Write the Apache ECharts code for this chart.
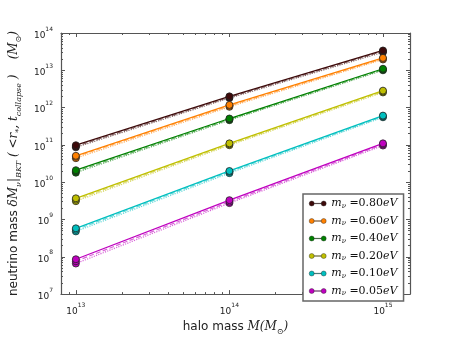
<!DOCTYPE html>
<html>
<head>
<meta charset="utf-8">
<script src="https://cdn.jsdelivr.net/npm/echarts@6/dist/echarts.min.js"></script>
<style>
  html, body { margin: 0; padding: 0; background: #fff; }
  #chart { width: 455px; height: 341px; }
</style>
</head>
<body>
<div id="chart"></div>
<script>
// halo masses (x) and neutrino masses per curve
var haloMass = [1e13, 1e14, 1e15];
var nuMass = ['0.80', '0.60', '0.40', '0.20', '0.10', '0.05'];
var colors = ['#3d0a0a', '#ff8000', '#008000', '#bfbf00', '#00bfbf', '#bf00bf'];

// solid line (main)
var mainVals = [
    [9.8e10, 2.0e12, 3.4e13],
    [5.1e10, 1.18e12, 2.15e13],
    [2.1e10, 5.1e11, 1.1e13],
    [3.7e9, 1.1e11, 2.85e12],
    [5.8e8, 2.0e10, 6.1e11],
    [8.6e7, 3.3e9, 1.1e11]
];
// dashed line
var dashVals = [
    [9.2e10, 1.9e12, 3.25e13],
    [4.8e10, 1.12e12, 2.05e13],
    [1.95e10, 4.85e11, 1.05e13],
    [3.4e9, 1.04e11, 2.7e12],
    [5.3e8, 1.9e10, 5.8e11],
    [7.6e7, 3.0e9, 1.03e11]
];
// dotted line
var dotVals = [
    [8.6e10, 1.8e12, 3.05e13],
    [4.4e10, 1.05e12, 1.95e13],
    [1.8e10, 4.6e11, 1.0e13],
    [3.1e9, 9.8e10, 2.55e12],
    [4.8e8, 1.75e10, 5.5e11],
    [6.6e7, 2.75e9, 0.96e11]
];

var xTicks = [1e13, 1e14, 1e15];
var yTicks = [1e7, 1e8, 1e9, 1e10, 1e11, 1e12, 1e13, 1e14];

function minorTicks(lo, hi) {
    var out = [];
    for (var e = lo; e < hi; e++) {
        for (var k = 2; k <= 9; k++) out.push(k * Math.pow(10, e));
    }
    return out;
}
var xMinor = [9e12].concat(minorTicks(13, 15));
var yMinor = minorTicks(7, 14);

function pts(vals) {
    return haloMass.map(function (x, i) { return [x, vals[i]]; });
}

var frame = '#555';
var supLabel = {
    fontFamily: 'DejaVu Sans',
    color: '#222',
    formatter: function (v) {
        return '{b|10}{e|' + Math.round(Math.log10(v)) + '}';
    },
    rich: {
        b: { fontSize: 9, fontFamily: 'DejaVu Sans', color: '#222', verticalAlign: 'bottom', lineHeight: 14 },
        e: { fontSize: 6, fontFamily: 'DejaVu Sans', color: '#222', verticalAlign: 'top', lineHeight: 14 }
    }
};

function majorAxis(pos, ticks, min, max, labels, extra) {
    var a = {
        type: 'log',
        position: pos,
        min: min,
        max: max,
        splitLine: { show: false },
        axisLine: { show: true, onZero: false, lineStyle: { color: frame, width: 1.2 } },
        axisTick: { show: true, inside: true, length: 4, customValues: ticks, lineStyle: { color: frame } },
        axisLabel: labels ? Object.assign({ show: true, customValues: ticks }, supLabel) : { show: false }
    };
    return Object.assign(a, extra || {});
}
function minorAxis(pos, ticks, min, max) {
    return {
        type: 'log',
        position: pos,
        min: min,
        max: max,
        splitLine: { show: false },
        axisLine: { show: false },
        axisTick: { show: true, inside: true, length: 2, customValues: ticks, lineStyle: { color: frame } },
        axisLabel: { show: false }
    };
}

var xMin = 8e12, xMax = 1.5e15, yMin = 1e7, yMax = 1e14;

var chart = echarts.init(document.getElementById('chart'));

var series = [];
nuMass.forEach(function (m, i) {
    var mk = {
        symbol: 'circle', symbolSize: 7,
        itemStyle: { color: colors[i], borderColor: '#222', borderWidth: 0.8 }
    };
    series.push(Object.assign({
        name: m, type: 'line', data: pts(dotVals[i]), z: 2,
        lineStyle: { color: colors[i], width: 1.2, type: 'dotted', opacity: 0.6 }
    }, mk));
    series.push(Object.assign({
        name: m, type: 'line', data: pts(dashVals[i]), z: 3,
        lineStyle: { color: colors[i], width: 1.2, type: 'dashed', opacity: 0.6 }
    }, mk));
    series.push(Object.assign({
        name: m, type: 'line', data: pts(mainVals[i]), z: 4,
        lineStyle: { color: colors[i], width: 1.3 }
    }, mk));
});

var legendIcon = 'path://M0,5a5,5 0 1,0 10,0a5,5 0 1,0 -10,0ZM24,5a5,5 0 1,0 10,0a5,5 0 1,0 -10,0ZM10,4.6L24,4.6L24,5.4L10,5.4Z';

chart.setOption({
    animation: false,
    backgroundColor: '#fff',
    grid: { left: 57, top: 33, right: 45, bottom: 34, containLabel: false },
    xAxis: [
        majorAxis('bottom', xTicks, xMin, xMax, true, {
            name: '{t|halo mass }{m|M(M}{s|⊙}{m|)}',
            nameLocation: 'middle',
            nameGap: 17,
            nameTextStyle: {
                rich: {
                    t: { fontFamily: 'DejaVu Sans', fontSize: 12, color: '#222', verticalAlign: 'middle', lineHeight: 18 },
                    m: { fontFamily: 'DejaVu Serif', fontStyle: 'italic', fontSize: 12, color: '#222', verticalAlign: 'middle', lineHeight: 18 },
                    s: { fontFamily: 'DejaVu Serif', fontSize: 8, color: '#222', verticalAlign: 'bottom', lineHeight: 18 }
                }
            }
        }),
        majorAxis('top', xTicks, xMin, xMax, false),
        minorAxis('bottom', xMinor, xMin, xMax),
        minorAxis('top', xMinor, xMin, xMax)
    ],
    yAxis: [
        majorAxis('left', yTicks, yMin, yMax, true, {
            name: '{t|neutrino mass }{m|δM}{s|ν}{m||}{s|BKT}{m| ( <r}{s|*}{m|, t}{s|collapse}{m| )    (M}{s|⊙}{m|)}',
            nameLocation: 'middle',
            nameRotate: 90,
            nameGap: 27,
            nameTextStyle: {
                rich: {
                    t: { fontFamily: 'DejaVu Sans', fontSize: 12, color: '#222', verticalAlign: 'middle', lineHeight: 18 },
                    m: { fontFamily: 'DejaVu Serif', fontStyle: 'italic', fontSize: 12, color: '#222', verticalAlign: 'middle', lineHeight: 18 },
                    s: { fontFamily: 'DejaVu Serif', fontStyle: 'italic', fontSize: 8, color: '#222', verticalAlign: 'bottom', lineHeight: 18 }
                }
            }
        }),
        majorAxis('right', yTicks, yMin, yMax, false),
        minorAxis('left', yMinor, yMin, yMax),
        minorAxis('right', yMinor, yMin, yMax)
    ],
    legend: {
        orient: 'vertical',
        left: 303,
        top: 194,
        width: 102,
        padding: [4, 6, 4, 6],
        backgroundColor: '#fff',
        borderColor: '#666',
        borderWidth: 1.5,
        borderRadius: 0,
        itemWidth: 17,
        itemHeight: 5,
        itemGap: 6,
        icon: legendIcon,
        itemStyle: { borderWidth: 0.4, borderColor: '#222' },
        data: nuMass,
        selectedMode: false,
        formatter: function (name) {
            return '{i|m}{s|ν}{n| =' + name + '}{i|eV}';
        },
        textStyle: {
            rich: {
                i: { fontFamily: 'DejaVu Serif', fontStyle: 'italic', fontSize: 11, color: '#111', lineHeight: 12, verticalAlign: 'middle' },
                n: { fontFamily: 'DejaVu Serif', fontSize: 11, color: '#111', lineHeight: 12, verticalAlign: 'middle' },
                s: { fontFamily: 'DejaVu Serif', fontStyle: 'italic', fontSize: 7, color: '#111', lineHeight: 12, verticalAlign: 'bottom' }
            }
        }
    },
    series: series
});
</script>
</body>
</html>
